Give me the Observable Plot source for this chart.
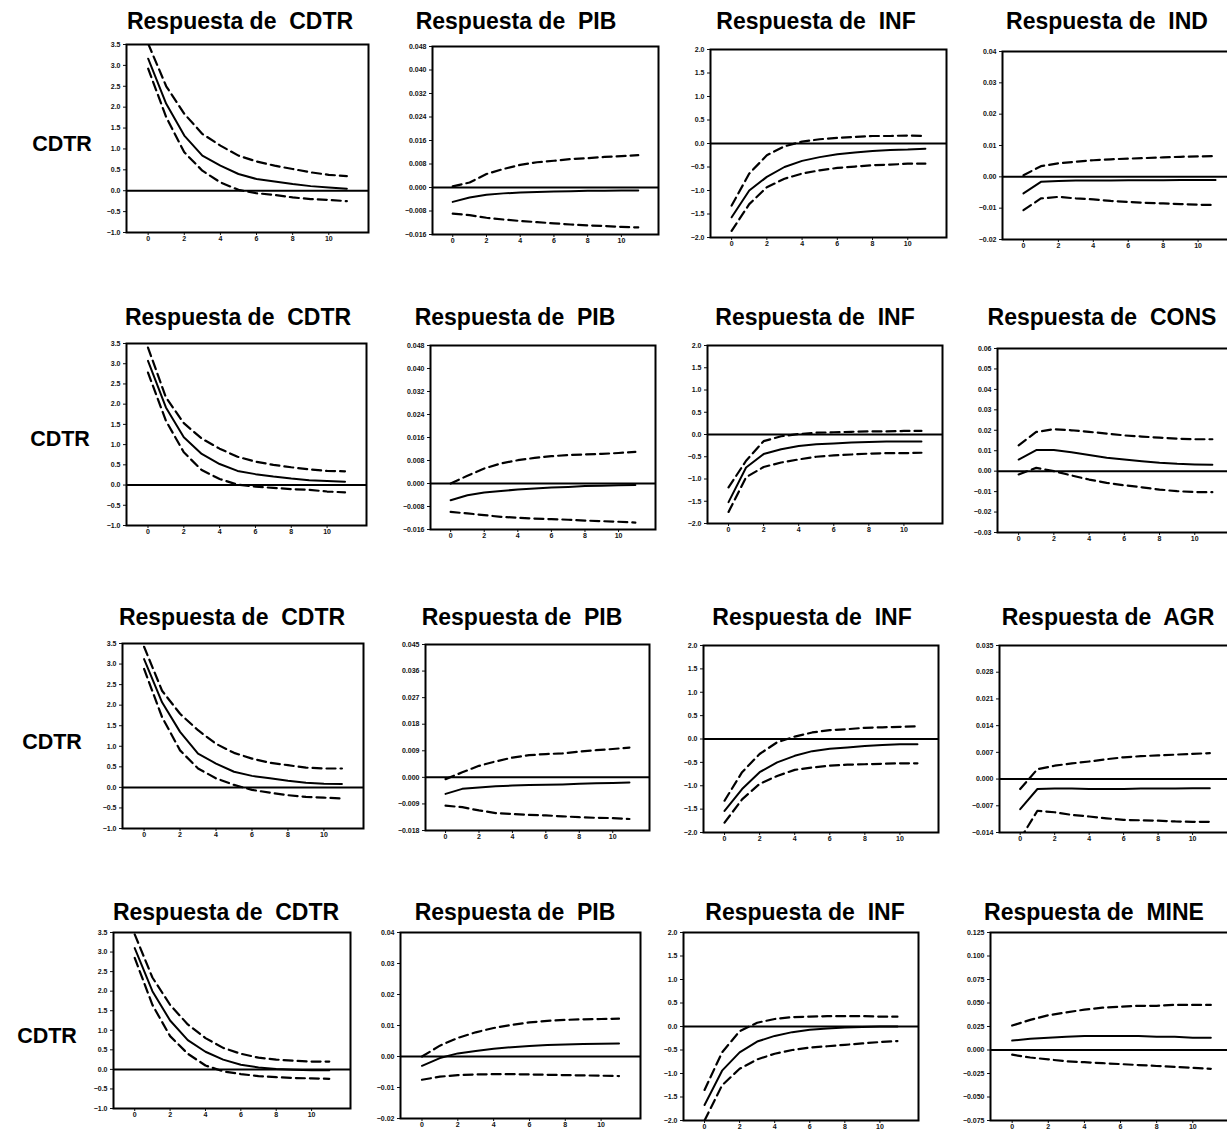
<!DOCTYPE html>
<html>
<head>
<meta charset="utf-8">
<script src="https://cdn.jsdelivr.net/npm/d3@7"></script>
<script src="https://cdn.jsdelivr.net/npm/@observablehq/plot@0.6"></script>
<style>
  html, body { margin: 0; padding: 0; background: #fff; overflow: hidden; }
  #page { position: relative; width: 1227px; height: 1134px; overflow: hidden; background: #fff; }
  .ttl { position: absolute; font-family: "Liberation Sans", Arial, sans-serif; font-weight: bold;
         font-size: 23px; white-space: pre; transform: translateX(-50%); color: #000; line-height: 1; }
  .row { position: absolute; font-family: "Liberation Sans", Arial, sans-serif; font-weight: bold;
         font-size: 21.5px; transform: translate(-50%, -50%); color: #000; line-height: 1; }
  .pnl { position: absolute; }
  .pnl svg { max-width: none !important; display: block; }
</style>
</head>
<body>
<div id="page"></div>
<script>
// Horizon (periods after the shock) and x-axis tick labels
const periods = [0, 1, 2, 3, 4, 5, 6, 7, 8, 9, 10, 11];
const xTicks = [0, 2, 4, 6, 8, 10];

// Y-axis tick values for each kind of panel
const ticksCdtr = [-1.0, -0.5, 0.0, 0.5, 1.0, 1.5, 2.0, 2.5, 3.0, 3.5];
const ticksInf = [-2.0, -1.5, -1.0, -0.5, 0.0, 0.5, 1.0, 1.5, 2.0];
const ticksPib1 = [-0.016, -0.008, 0.000, 0.008, 0.016, 0.024, 0.032, 0.040, 0.048];
const ticksPib3 = [-0.018, -0.009, 0.000, 0.009, 0.018, 0.027, 0.036, 0.045];
const ticksPib4 = [-0.02, -0.01, 0.00, 0.01, 0.02, 0.03, 0.04];
const ticksInd = [-0.02, -0.01, 0.00, 0.01, 0.02, 0.03, 0.04];
const ticksCons = [-0.03, -0.02, -0.01, 0.00, 0.01, 0.02, 0.03, 0.04, 0.05, 0.06];
const ticksAgr = [-0.014, -0.007, 0.000, 0.007, 0.014, 0.021, 0.028, 0.035];
const ticksMine = [-0.075, -0.050, -0.025, 0.000, 0.025, 0.050, 0.075, 0.100, 0.125];

// Row 1: CDTR shock in the VAR with IND
const r1CdtrMid = [3.16, 2.08, 1.32, 0.84, 0.60, 0.40, 0.28, 0.22, 0.16, 0.11, 0.08, 0.05];
const r1CdtrHi  = [3.52, 2.50, 1.84, 1.36, 1.08, 0.84, 0.70, 0.60, 0.52, 0.44, 0.38, 0.35];
const r1CdtrLo  = [2.92, 1.76, 0.92, 0.48, 0.20, 0.02, -0.06, -0.10, -0.16, -0.20, -0.22, -0.25];
const r1PibMid = [-0.0049, -0.0034, -0.0025, -0.0020, -0.0017, -0.0015, -0.0014, -0.0013, -0.0011, -0.0011, -0.0010, -0.0010];
const r1PibHi  = [0.0004, 0.0017, 0.0046, 0.0063, 0.0077, 0.0086, 0.0091, 0.0097, 0.0100, 0.0104, 0.0107, 0.0110];
const r1PibLo  = [-0.0089, -0.0094, -0.0103, -0.0109, -0.0114, -0.0118, -0.0122, -0.0126, -0.0129, -0.0131, -0.0134, -0.0136];
const r1InfMid = [-1.57, -1.00, -0.71, -0.50, -0.37, -0.29, -0.23, -0.19, -0.16, -0.14, -0.13, -0.11];
const r1InfHi  = [-1.32, -0.64, -0.25, -0.06, 0.04, 0.09, 0.12, 0.14, 0.16, 0.16, 0.17, 0.16];
const r1InfLo  = [-1.86, -1.29, -0.93, -0.75, -0.64, -0.57, -0.52, -0.49, -0.46, -0.45, -0.43, -0.43];
const r1IndMid = [-0.0053, -0.0016, -0.0013, -0.0012, -0.0012, -0.0012, -0.0011, -0.0011, -0.0011, -0.0010, -0.0010, -0.0010];
const r1IndHi  = [0.0005, 0.0034, 0.0043, 0.0048, 0.0053, 0.0056, 0.0058, 0.0060, 0.0062, 0.0064, 0.0065, 0.0066];
const r1IndLo  = [-0.0106, -0.0069, -0.0064, -0.0069, -0.0072, -0.0077, -0.0080, -0.0083, -0.0085, -0.0087, -0.0089, -0.0090];

// Row 2: CDTR shock in the VAR with CONS
const r2CdtrMid = [3.07, 1.92, 1.18, 0.77, 0.52, 0.35, 0.27, 0.21, 0.16, 0.12, 0.10, 0.08];
const r2CdtrHi  = [3.40, 2.17, 1.53, 1.15, 0.90, 0.70, 0.58, 0.50, 0.44, 0.39, 0.35, 0.34];
const r2CdtrLo  = [2.78, 1.59, 0.81, 0.37, 0.15, 0.01, -0.04, -0.07, -0.10, -0.12, -0.16, -0.18];
const r2PibMid = [-0.0058, -0.0041, -0.0031, -0.0026, -0.0021, -0.0017, -0.0014, -0.0012, -0.0009, -0.0008, -0.0006, -0.0005];
const r2PibHi  = [0.0000, 0.0027, 0.0052, 0.0070, 0.0081, 0.0089, 0.0095, 0.0099, 0.0101, 0.0103, 0.0106, 0.0110];
const r2PibLo  = [-0.0099, -0.0104, -0.0110, -0.0116, -0.0119, -0.0122, -0.0124, -0.0126, -0.0129, -0.0131, -0.0133, -0.0136];
const r2InfMid = [-1.52, -0.74, -0.44, -0.33, -0.26, -0.22, -0.20, -0.18, -0.17, -0.16, -0.16, -0.155];
const r2InfHi  = [-1.19, -0.59, -0.15, -0.04, 0.01, 0.04, 0.05, 0.06, 0.07, 0.07, 0.08, 0.08];
const r2InfLo  = [-1.74, -0.96, -0.73, -0.63, -0.56, -0.50, -0.47, -0.45, -0.43, -0.42, -0.42, -0.41];
const r2ConsMid = [0.0057, 0.0103, 0.0103, 0.0093, 0.0079, 0.0066, 0.0057, 0.0049, 0.0041, 0.0036, 0.0033, 0.0031];
const r2ConsHi  = [0.0126, 0.0192, 0.0205, 0.0200, 0.0192, 0.0184, 0.0175, 0.0169, 0.0164, 0.0159, 0.0156, 0.0156];
const r2ConsLo  = [-0.0016, 0.0016, 0.0000, -0.0021, -0.0041, -0.0057, -0.0069, -0.0079, -0.0090, -0.0098, -0.0102, -0.0103];

// Row 3: CDTR shock in the VAR with AGR
const r3CdtrMid = [3.12, 2.07, 1.35, 0.82, 0.58, 0.38, 0.28, 0.22, 0.16, 0.11, 0.09, 0.08];
const r3CdtrHi  = [3.42, 2.35, 1.79, 1.39, 1.06, 0.84, 0.70, 0.60, 0.54, 0.48, 0.46, 0.46];
const r3CdtrLo  = [2.88, 1.71, 0.90, 0.46, 0.22, 0.06, -0.06, -0.13, -0.19, -0.23, -0.25, -0.27];
const r3PibMid = [-0.0056, -0.0039, -0.0034, -0.0030, -0.0028, -0.0026, -0.0025, -0.0024, -0.0022, -0.0020, -0.0019, -0.0017];
const r3PibHi  = [-0.0006, 0.0017, 0.0039, 0.0054, 0.0067, 0.0075, 0.0079, 0.0081, 0.0087, 0.0092, 0.0096, 0.0101];
const r3PibLo  = [-0.0096, -0.0101, -0.0112, -0.0121, -0.0124, -0.0127, -0.0129, -0.0132, -0.0135, -0.0137, -0.0138, -0.0141];
const r3InfMid = [-1.54, -1.07, -0.71, -0.50, -0.36, -0.26, -0.21, -0.18, -0.15, -0.13, -0.11, -0.11];
const r3InfHi  = [-1.32, -0.71, -0.32, -0.07, 0.05, 0.14, 0.19, 0.21, 0.24, 0.25, 0.26, 0.27];
const r3InfLo  = [-1.79, -1.29, -0.96, -0.79, -0.66, -0.61, -0.57, -0.55, -0.54, -0.53, -0.52, -0.52];
const r3AgrMid = [-0.0079, -0.0026, -0.0025, -0.0025, -0.0026, -0.0026, -0.0026, -0.0025, -0.0025, -0.0025, -0.0024, -0.0024];
const r3AgrHi  = [-0.0026, 0.0026, 0.0035, 0.0041, 0.0046, 0.0052, 0.0057, 0.0060, 0.0062, 0.0064, 0.0066, 0.0068];
const r3AgrLo  = [-0.0157, -0.0083, -0.0087, -0.0094, -0.0098, -0.0103, -0.0107, -0.0108, -0.0109, -0.0111, -0.0112, -0.0112];

// Row 4: CDTR shock in the VAR with MINE
const r4CdtrMid = [3.10, 2.00, 1.25, 0.75, 0.45, 0.25, 0.12, 0.05, 0.01, -0.01, -0.02, -0.02];
const r4CdtrHi  = [3.45, 2.35, 1.65, 1.15, 0.80, 0.55, 0.40, 0.30, 0.25, 0.22, 0.20, 0.20];
const r4CdtrLo  = [2.85, 1.65, 0.85, 0.40, 0.10, -0.05, -0.12, -0.17, -0.20, -0.22, -0.23, -0.24];
const r4PibMid = [-0.0030, -0.0005, 0.0010, 0.0018, 0.0025, 0.0030, 0.0034, 0.0037, 0.0039, 0.0040, 0.0041, 0.0042];
const r4PibHi  = [0.0000, 0.0035, 0.0060, 0.0078, 0.0092, 0.0102, 0.0110, 0.0115, 0.0118, 0.0120, 0.0121, 0.0122];
const r4PibLo  = [-0.0075, -0.0065, -0.0060, -0.0058, -0.0057, -0.0057, -0.0058, -0.0059, -0.0060, -0.0061, -0.0062, -0.0063];
const r4InfMid = [-1.67, -0.94, -0.55, -0.32, -0.20, -0.12, -0.07, -0.04, -0.02, -0.01, 0.00, 0.00];
const r4InfHi  = [-1.35, -0.55, -0.10, 0.08, 0.16, 0.20, 0.21, 0.22, 0.22, 0.22, 0.21, 0.21];
const r4InfLo  = [-2.00, -1.25, -0.90, -0.70, -0.58, -0.50, -0.45, -0.42, -0.39, -0.36, -0.33, -0.31];
const r4MineMid = [0.010, 0.012, 0.013, 0.014, 0.015, 0.015, 0.015, 0.015, 0.014, 0.014, 0.013, 0.013];
const r4MineHi  = [0.026, 0.032, 0.037, 0.040, 0.043, 0.045, 0.046, 0.047, 0.047, 0.048, 0.048, 0.048];
const r4MineLo  = [-0.005, -0.008, -0.010, -0.012, -0.013, -0.014, -0.015, -0.016, -0.017, -0.018, -0.019, -0.020];

// Panel grid: frame edges in page pixels
const panels = [
  {title: "Respuesta de  CDTR", tx: 240, ty: 10, box: [126, 368, 44, 232], yDomain: [-1, 3.5], yTicks: ticksCdtr, fmt: ".1f", mid: r1CdtrMid, hi: r1CdtrHi, lo: r1CdtrLo},
  {title: "Respuesta de  PIB",  tx: 516, ty: 10, box: [432, 658, 46, 234], yDomain: [-0.016, 0.048], yTicks: ticksPib1, fmt: ".3f", mid: r1PibMid, hi: r1PibHi, lo: r1PibLo},
  {title: "Respuesta de  INF",  tx: 816, ty: 10, box: [710, 946, 49, 237], yDomain: [-2, 2], yTicks: ticksInf, fmt: ".1f", mid: r1InfMid, hi: r1InfHi, lo: r1InfLo},
  {title: "Respuesta de  IND",  tx: 1107, ty: 10, box: [1002, 1236, 51, 239], yDomain: [-0.02, 0.04], yTicks: ticksInd, fmt: ".2f", mid: r1IndMid, hi: r1IndHi, lo: r1IndLo},

  {title: "Respuesta de  CDTR", tx: 238, ty: 306, box: [126, 366, 343, 525], yDomain: [-1, 3.5], yTicks: ticksCdtr, fmt: ".1f", mid: r2CdtrMid, hi: r2CdtrHi, lo: r2CdtrLo},
  {title: "Respuesta de  PIB",  tx: 515, ty: 306, box: [430, 655, 345, 529], yDomain: [-0.016, 0.048], yTicks: ticksPib1, fmt: ".3f", mid: r2PibMid, hi: r2PibHi, lo: r2PibLo},
  {title: "Respuesta de  INF",  tx: 815, ty: 306, box: [707, 942, 345, 523], yDomain: [-2, 2], yTicks: ticksInf, fmt: ".1f", mid: r2InfMid, hi: r2InfHi, lo: r2InfLo},
  {title: "Respuesta de  CONS", tx: 1102, ty: 306, box: [997, 1233, 348, 532], yDomain: [-0.03, 0.06], yTicks: ticksCons, fmt: ".2f", mid: r2ConsMid, hi: r2ConsHi, lo: r2ConsLo},

  {title: "Respuesta de  CDTR", tx: 232, ty: 606, box: [122, 363, 643, 828], yDomain: [-1, 3.5], yTicks: ticksCdtr, fmt: ".1f", mid: r3CdtrMid, hi: r3CdtrHi, lo: r3CdtrLo},
  {title: "Respuesta de  PIB",  tx: 522, ty: 606, box: [425, 649, 644, 830], yDomain: [-0.018, 0.045], yTicks: ticksPib3, fmt: ".3f", mid: r3PibMid, hi: r3PibHi, lo: r3PibLo},
  {title: "Respuesta de  INF",  tx: 812, ty: 606, box: [703, 938, 645, 832], yDomain: [-2, 2], yTicks: ticksInf, fmt: ".1f", mid: r3InfMid, hi: r3InfHi, lo: r3InfLo},
  {title: "Respuesta de  AGR",  tx: 1108, ty: 606, box: [999, 1230, 645, 832], yDomain: [-0.014, 0.035], yTicks: ticksAgr, fmt: ".3f", mid: r3AgrMid, hi: r3AgrHi, lo: r3AgrLo},

  {title: "Respuesta de  CDTR", tx: 226, ty: 901, box: [113, 350, 932, 1108], yDomain: [-1, 3.5], yTicks: ticksCdtr, fmt: ".1f", mid: r4CdtrMid, hi: r4CdtrHi, lo: r4CdtrLo},
  {title: "Respuesta de  PIB",  tx: 515, ty: 901, box: [400, 640, 932, 1118], yDomain: [-0.02, 0.04], yTicks: ticksPib4, fmt: ".2f", mid: r4PibMid, hi: r4PibHi, lo: r4PibLo},
  {title: "Respuesta de  INF",  tx: 805, ty: 901, box: [683, 918, 932, 1120], yDomain: [-2, 2], yTicks: ticksInf, fmt: ".1f", mid: r4InfMid, hi: r4InfHi, lo: r4InfLo},
  {title: "Respuesta de  MINE", tx: 1094, ty: 901, box: [990, 1232, 932, 1120], yDomain: [-0.075, 0.125], yTicks: ticksMine, fmt: ".3f", mid: r4MineMid, hi: r4MineHi, lo: r4MineLo}
];

// Row labels naming the shocked variable
const rowLabels = [
  {text: "CDTR", x: 62, y: 145},
  {text: "CDTR", x: 60, y: 440},
  {text: "CDTR", x: 52, y: 743},
  {text: "CDTR", x: 47, y: 1037}
];

const page = document.getElementById("page");
const xDomain = [-1.2, 12.2];
const mL = 34, mR = 3, mT = 3, mB = 13;

function rows(values) {
  return periods.map((p, i) => ({p, v: values[i]}));
}

for (const c of panels) {
  const [left, right, top, bottom] = c.box;
  const w = right - left + mL + mR;
  const h = bottom - top + mT + mB;
  const chart = Plot.plot({
    width: w,
    height: h,
    marginLeft: mL, marginRight: mR, marginTop: mT, marginBottom: mB,
    style: {fontFamily: "'Liberation Sans', Arial, sans-serif", fontSize: "7px", fontWeight: "bold",
            color: "#111", background: "transparent", overflow: "visible", maxWidth: "none"},
    x: {domain: xDomain, ticks: xTicks, tickFormat: d3.format("d"), tickSize: 3, tickPadding: 1, label: null},
    y: {domain: c.yDomain, ticks: c.yTicks, tickFormat: d3.format(c.fmt), tickSize: 3, tickPadding: 3, label: null},
    marks: [
      Plot.frame({stroke: "#000", strokeWidth: 2}),
      Plot.ruleY([0], {stroke: "#000", strokeWidth: 2}),
      Plot.line(rows(c.hi), {x: "p", y: "v", stroke: "#000", strokeWidth: 2.2, strokeDasharray: "9,5", clip: true}),
      Plot.line(rows(c.lo), {x: "p", y: "v", stroke: "#000", strokeWidth: 2.2, strokeDasharray: "9,5", clip: true}),
      Plot.line(rows(c.mid), {x: "p", y: "v", stroke: "#000", strokeWidth: 2, clip: true})
    ]
  });
  const holder = document.createElement("div");
  holder.className = "pnl";
  holder.style.left = (left - mL) + "px";
  holder.style.top = (top - mT) + "px";
  holder.style.width = w + "px";
  holder.style.height = h + "px";
  holder.appendChild(chart);
  page.appendChild(holder);

  const t = document.createElement("div");
  t.className = "ttl";
  t.textContent = c.title;
  t.style.left = c.tx + "px";
  t.style.top = c.ty + "px";
  page.appendChild(t);
}

for (const r of rowLabels) {
  const d = document.createElement("div");
  d.className = "row";
  d.textContent = r.text;
  d.style.left = r.x + "px";
  d.style.top = r.y + "px";
  page.appendChild(d);
}
</script>
</body>
</html>
